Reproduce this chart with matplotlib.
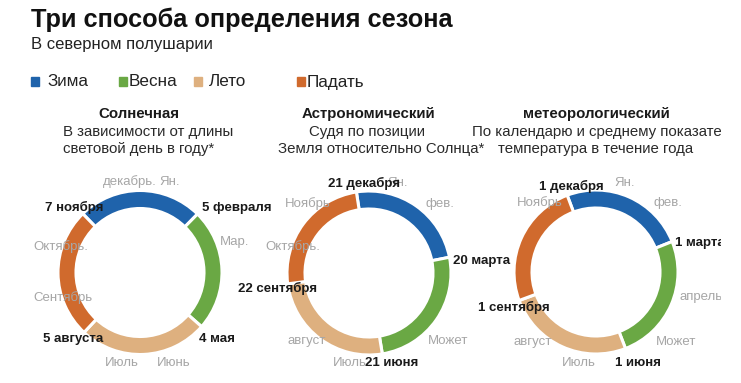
import matplotlib
matplotlib.use('Agg')
import matplotlib.pyplot as plt
from matplotlib.patches import Rectangle
from matplotlib.transforms import Bbox, TransformedBbox

plt.rcParams['font.family'] = ['Liberation Sans', 'DejaVu Sans']

W, H = 741, 383

# ---- data ----
seasons = ['Зима', 'Весна', 'Лето', 'Падать']
colors = ['#1f63ab', '#6aa844', '#deb07f', '#d06a2d']

# length of each season in days, starting with winter
solar_days = [90, 88, 93, 94]
astro_days = [89, 93, 93, 90]
meteo_days = [90, 92, 92, 91]
# day of year (0 = 1 Jan) on which winter begins
solar_start = 310
astro_start = 354
meteo_start = 334

solar_dates = ['7 ноября', '5 февраля', '4 мая', '5 августа']
astro_dates = ['21 декабря', '20 марта', '21 июня', '22 сентября']
meteo_dates = ['1 декабря', '1 марта', '1 июня', '1 сентября']

solar_months = ['декабрь.', 'Ян.', 'Мар.', 'Октябрь.', 'Сентябрь', 'Июль', 'Июнь']
astro_months = ['Ян.', 'Ноябрь', 'фев.', 'Октябрь.', 'август', 'Может', 'Июль']
meteo_months = ['Ян.', 'Ноябрь', 'фев.', 'апрель', 'август', 'Может', 'Июль']

title = 'Три способа определения сезона'
subtitle = 'В северном полушарии'
headers = ['Солнечная', 'Астрономический', 'метеорологический']
notes = [['В зависимости от длины', 'световой день в году*'],
         ['Судя по позиции', 'Земля относительно Солнца*'],
         ['По календарю и среднему показате', 'температура в течение года']]

# ---- layout (pixel coords, y from top) ----
centers = [(140, 272.5), (369, 273), (596, 272)]
rotation = [10, 2, 10]   # extra clockwise turn of each ring, degrees
R, RING = 82, 18

date_pos = [[(45, 207), (202, 208), (199, 339), (43, 339)],
            [(328, 183), (453, 261), (365, 363), (238, 288)],
            [(539, 186), (675, 243), (615, 363), (478, 307)]]
month_pos = [[(103, 182), (159, 182), (220, 242), (33, 247), (33, 298), (105, 363), (157, 363)],
             [(387, 183), (285, 204), (425, 204), (265, 247), (287, 341), (428, 341), (333, 363)],
             [(614, 183), (517, 203), (654, 203), (680, 297), (513, 342), (656, 342), (562, 363)]]

fig = plt.figure(figsize=(W / 100, H / 100), dpi=100)
ax = fig.add_axes([0, 0, 1, 1])

def Y(y):
    return H - y

days_all = [solar_days, astro_days, meteo_days]
starts = [solar_start, astro_start, meteo_start]
for i in range(3):
    cx, cy = centers[i]
    a0 = starts[i] / 365 * 360 + rotation[i]
    ax.pie(days_all[i], colors=colors, radius=R, center=(cx, Y(cy)),
           startangle=90 - a0, counterclock=False, frame=True,
           wedgeprops=dict(width=RING, edgecolor='white', linewidth=2.2))

# the original cuts everything off a little before the right edge
clip = TransformedBbox(Bbox([[0, 0], [721, H]]), ax.transData)

def put(txt, x, y, **kw):
    t = ax.text(x, Y(y), txt, **kw)
    t.set_clip_box(clip)
    t.set_clip_on(True)
    return t

# month names first (grey), then bold dates on top
for months, pos in zip([solar_months, astro_months, meteo_months], month_pos):
    for m, (x, y) in zip(months, pos):
        put(m, x, y, fontsize=9.5, color='#a6a6a6', va='center', ha='left')
for dates, pos in zip([solar_dates, astro_dates, meteo_dates], date_pos):
    for d, (x, y) in zip(dates, pos):
        put(d, x, y, fontsize=9.5, color='#1a1a1a', fontweight='bold', va='center', ha='left')

# panel headers
head_x = [139, 368, 596]
for i in range(3):
    put(headers[i], head_x[i], 114, fontsize=10.8, fontweight='bold', color='#1a1a1a',
        ha='center', va='center')
nfs = 10.8
put(notes[0][0], 63, 132, fontsize=nfs, color='#2a2a2a', ha='left', va='center')
put(notes[0][1], 63, 149, fontsize=nfs, color='#2a2a2a', ha='left', va='center')
put(notes[1][0], 367, 132, fontsize=nfs, color='#2a2a2a', ha='center', va='center')
put(notes[1][1], 381, 149, fontsize=nfs, color='#2a2a2a', ha='center', va='center')
put(notes[2][0], 472, 132, fontsize=nfs, color='#2a2a2a', ha='left', va='center')
put(notes[2][1], 596, 149, fontsize=nfs, color='#2a2a2a', ha='center', va='center')

# title
put(title, 31, 27, fontsize=18.3, fontweight='bold', color='#111111', ha='left', va='baseline')
put(subtitle, 31, 49, fontsize=12, color='#222222', ha='left', va='baseline')

# legend
sq_x = [31, 119, 194, 297]
lab_x = [47, 129, 209, 307]
for s, c, sx, lx in zip(seasons, colors, sq_x, lab_x):
    ax.add_patch(Rectangle((sx, Y(86)), 8, 9, color=c))
    put(s, lx, 82, fontsize=12.3, color='#222222', ha='left', va='center')

ax.set_xlim(0, W)
ax.set_ylim(0, H)
ax.set_aspect('equal')
ax.axis('off')

fig.savefig('out.png', dpi=100)
